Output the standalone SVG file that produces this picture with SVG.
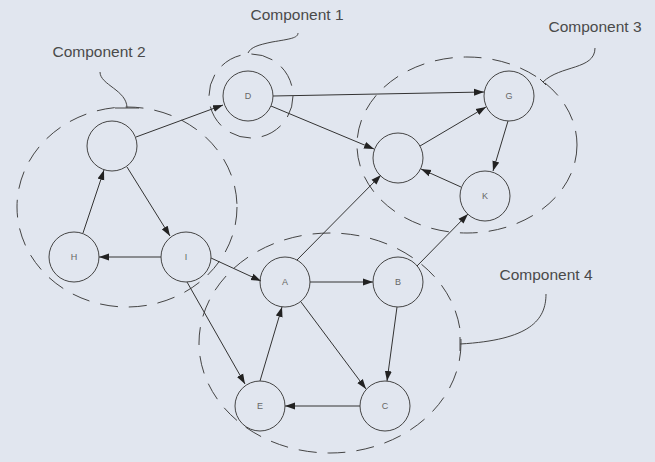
<svg xmlns="http://www.w3.org/2000/svg" width="655" height="462" viewBox="0 0 655 462">
<defs>
<marker id="arr" viewBox="0 0 10 10" refX="10" refY="5" markerWidth="10" markerHeight="10" markerUnits="userSpaceOnUse" orient="auto">
<path d="M0,1.5 L10,5 L0,8.5 z" fill="#222"/>
</marker>
<style>
.node circle{fill:none;stroke:#444;stroke-width:1}
.node text{font-family:"Liberation Sans",Arial,sans-serif;font-size:9px;fill:#666;text-anchor:middle}
.edge{stroke:#333;stroke-width:1;fill:none;marker-end:url(#arr)}
.comp{fill:none;stroke:#444;stroke-width:1;stroke-dasharray:18 11}
.lead{fill:none;stroke:#444;stroke-width:1}
.lbl{font-family:"Liberation Sans",Arial,sans-serif;font-size:15.5px;fill:#4a4a4a;text-anchor:middle}
</style>
</defs>
<rect width="655" height="462" fill="#e1e6ef"/>
<g id="components">
<circle class="comp" cx="251" cy="96" r="42" style="stroke-dasharray:22 11"/>
<ellipse class="comp" cx="127" cy="207" rx="110" ry="100"/>
<ellipse class="comp" cx="467" cy="145" rx="110" ry="88"/>
<ellipse class="comp" cx="330" cy="343" rx="131" ry="110"/>
</g>
<g id="leaders">
<path class="lead" d="M248,53 C251,47 258,45 272,42 C290,39 298,38 298,33"/>
<path class="lead" d="M115,108 L139,108 M127,108 C127,90 100,85 100,72"/>
<path class="lead" d="M540,79 L546,85 M543,82 C560,65 595,70 595,48"/>
<path class="lead" d="M460,337 L460,351 M460,344 C530,340 546,320 546,294"/>
</g>
<g id="labels">
<text class="lbl" x="297" y="20">Component 1</text>
<text class="lbl" x="99" y="57">Component 2</text>
<text class="lbl" x="595" y="32">Component 3</text>
<text class="lbl" x="546" y="280">Component 4</text>
</g>
<g id="connectors">
<line class="edge" x1="136" y1="137" x2="223" y2="105"/>
<line class="edge" x1="273" y1="96" x2="484" y2="92"/>
<line class="edge" x1="271" y1="106" x2="374" y2="149"/>
<line class="edge" x1="420" y1="146" x2="486" y2="107"/>
<line class="edge" x1="508" y1="121" x2="493" y2="171"/>
<line class="edge" x1="461" y1="187" x2="421" y2="169"/>
<line class="edge" x1="297" y1="260" x2="381" y2="175"/>
<line class="edge" x1="417" y1="266" x2="468" y2="214"/>
<line class="edge" x1="127" y1="167" x2="170" y2="236"/>
<line class="edge" x1="83" y1="233" x2="104" y2="170"/>
<line class="edge" x1="161" y1="257" x2="99" y2="257"/>
<line class="edge" x1="211" y1="258" x2="261" y2="281"/>
<line class="edge" x1="187" y1="282" x2="245" y2="384"/>
<line class="edge" x1="260" y1="381" x2="282" y2="307"/>
<line class="edge" x1="310" y1="282" x2="373" y2="282"/>
<line class="edge" x1="301" y1="302" x2="366" y2="389"/>
<line class="edge" x1="397" y1="307" x2="387" y2="381"/>
<line class="edge" x1="360" y1="406" x2="285" y2="406"/>
</g>
<g id="node-D" class="node"><circle cx="248" cy="96" r="25"/><text x="248" y="99">D</text></g>
<g id="node-N1" class="node"><circle cx="112" cy="146" r="25"/></g>
<g id="node-G" class="node"><circle cx="509" cy="96" r="25"/><text x="509" y="99">G</text></g>
<g id="node-N2" class="node"><circle cx="398" cy="158" r="25"/></g>
<g id="node-K" class="node"><circle cx="485" cy="196" r="25"/><text x="485" y="199">K</text></g>
<g id="node-H" class="node"><circle cx="74" cy="257" r="25"/><text x="74" y="260">H</text></g>
<g id="node-I" class="node"><circle cx="186" cy="257" r="25"/><text x="186" y="260">I</text></g>
<g id="node-A" class="node"><circle cx="285" cy="282" r="25"/><text x="285" y="285">A</text></g>
<g id="node-B" class="node"><circle cx="398" cy="282" r="25"/><text x="398" y="285">B</text></g>
<g id="node-E" class="node"><circle cx="260" cy="406" r="25"/><text x="260" y="409">E</text></g>
<g id="node-C" class="node"><circle cx="385" cy="406" r="25"/><text x="385" y="409">C</text></g>
</svg>
